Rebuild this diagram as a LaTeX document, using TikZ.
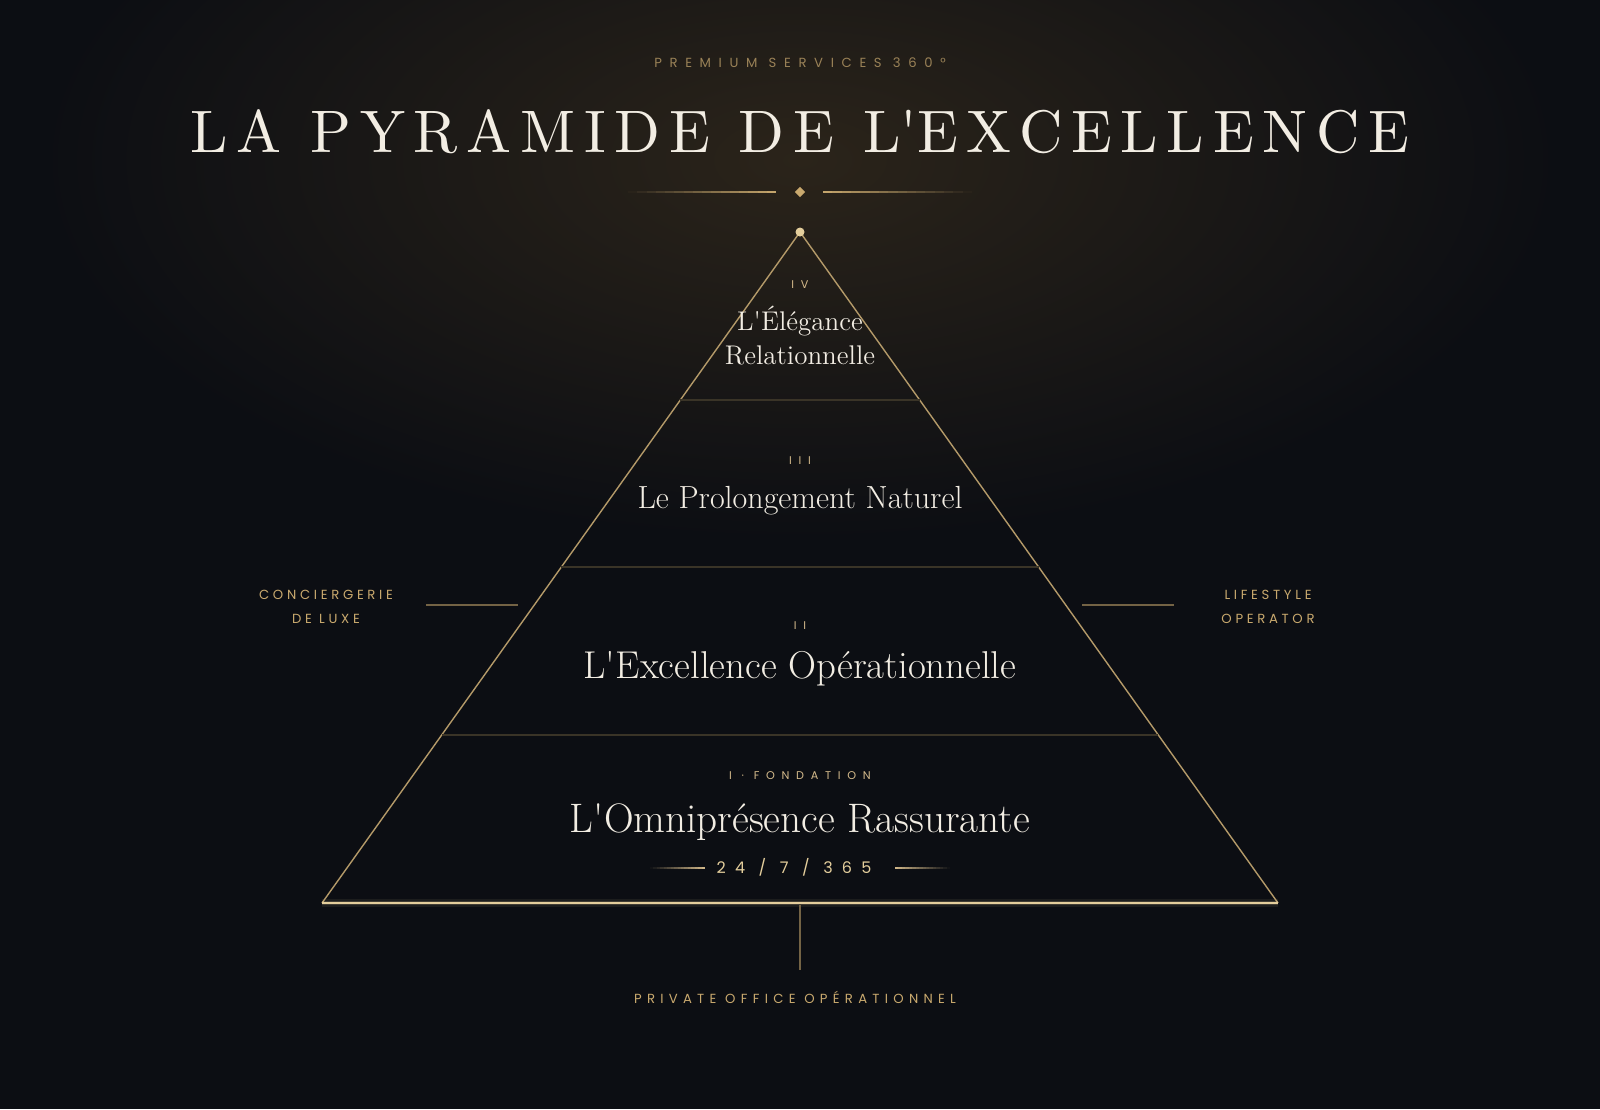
\documentclass[tikz,border=0pt]{standalone}
\usepackage{fontspec}
\newfontfamily\labelfont{Poppins}
\newfontfamily\titlefont{lmroman10-regular}[Extension=.otf,LetterSpace=14.6]
\usetikzlibrary{positioning}
\definecolor{bgdark}{HTML}{0C0E13}
\definecolor{glow}{HTML}{2B241A}
\definecolor{gold}{HTML}{C9A96E}
\definecolor{goldedge}{HTML}{B49A69}
\definecolor{goldfaint}{HTML}{3A3427}
\definecolor{goldlight}{HTML}{E4CE9C}
\definecolor{cream}{HTML}{F2EDE3}
\newcommand{\apos}{\textquotesingle}
% fading rule: faint at #1, full at #2
\newcommand{\goldrule}[4]{%
    \foreach \i [evaluate=\i as \op using (\i+0.5)/16,
                 evaluate=\i as \xa using #1+(#2-#1)*\i/16,
                 evaluate=\i as \xb using #1+(#2-#1)*(\i+1)/16] in {0,...,15}
        \draw[#4,opacity=\op,line width=0.7pt] (\xa,#3) -- (\xb,#3);}
\tikzset{x=0.5pt,y=-0.5pt,
    every node/.style={inner sep=0pt,anchor=base},
    smallcaps/.style={text=gold,
        font={\labelfont\addfontfeature{LetterSpace=40}\fontsize{6.6}{12}\selectfont}},
    sidecaps/.style={text=gold,align=center,
        font={\labelfont\addfontfeature{LetterSpace=28}\fontsize{6.6}{12}\selectfont}},
    numeral/.style={text=gold!80,
        font={\labelfont\addfontfeature{LetterSpace=60}\fontsize{5.6}{6}\selectfont}},
    tiertext/.style={text=cream,align=center},
    divider/.style={draw=goldfaint,line width=0.6pt},
    sideline/.style={draw=gold!55!bgdark,line width=0.6pt}}
\begin{document}
\begin{tikzpicture}
    % background and glow
    \fill[bgdark] (0,0) rectangle (1600,1109);
    \useasboundingbox (0,0) rectangle (1600,1109);
    \begin{scope}
        \clip (0,0) rectangle (1600,1109);
        \shade[inner color=glow,outer color=bgdark] (800,160) ellipse [x radius=760,y radius=380];
    \end{scope}

    % heading
    \node[smallcaps,text=gold!75!bgdark,font={\labelfont\addfontfeature{LetterSpace=58}\fontsize{6.6}{8}\selectfont}] (kicker) at (800,67) {PREMIUM SERVICES 360°};
    \node[text=cream,font={\titlefont\fontsize{30}{34}\selectfont}] (title) at (800,152) {LA PYRAMIDE DE L\apos EXCELLENCE};
    \node[fill=gold,minimum size=3.6pt,rotate=45,anchor=center] (diamond) at (800,192) {};
    \goldrule{628}{776}{192}{gold}
    \goldrule{972}{823}{192}{gold}

    % pyramid
    \coordinate (apex) at (800,232);
    \coordinate (baseL) at (322,903);
    \coordinate (baseR) at (1278,903);
    \draw[goldedge,line width=0.7pt] (baseL) -- (apex) -- (baseR);
    \draw[goldlight,line width=4pt,opacity=0.08] (baseL) -- (baseR);
    \draw[goldlight,line width=2.4pt,opacity=0.18] (baseL) -- (baseR);
    \draw[goldlight,line width=1.4pt] (baseL) -- (baseR);
    \fill[goldlight] (apex) circle (4.5);

    % tier dividers
    \foreach \yy/\nm in {400/a,567/b,735/c}{
        \coordinate (\nm L) at ({800-(\yy-232)/671*478},\yy);
        \coordinate (\nm R) at ({800+(\yy-232)/671*478},\yy);
        \draw[divider] (\nm L) -- (\nm R);
    }

    % tier IV
    \node[numeral] (numfour) at (800,288) {IV};
    \node[tiertext,font=\fontsize{13.5}{17}\selectfont] (tierfour) at (800,364) {L\apos Élégance\\Relationnelle};
    % tier III
    \node[numeral] (numthree) at (800,464) {III};
    \node[tiertext,font=\fontsize{16}{18}\selectfont] (tierthree) at (800,508) {Le Prolongement Naturel};
    % tier II
    \node[numeral] (numtwo) at (800,629) {II};
    \node[tiertext,font=\fontsize{19.4}{22}\selectfont] (tiertwo) at (800,678) {L\apos Excellence Opérationnelle};
    % tier I
    \node[numeral] (numone) at (800,779) {I · FONDATION};
    \node[tiertext,font=\fontsize{20.6}{23}\selectfont] (tierone) at (800,832) {L\apos Omniprésence Rassurante};
    \node[smallcaps,text=goldlight,font={\labelfont\addfontfeature{LetterSpace=58}\fontsize{8}{10}\selectfont}] (hours) at (794,873) {24 / 7 / 365};
    \goldrule{650}{705}{868}{gold!80}
    \goldrule{950}{895}{868}{gold!80}

    % side labels
    \node[sidecaps] (concierge) at (326,623) {CONCIERGERIE\\DE LUXE};
    \node[sidecaps] (lifestyle) at (1268,623) {LIFESTYLE\\OPERATOR};
    \coordinate (leftA) at (426,605);
    \coordinate (leftB) at (518,605);
    \coordinate (rightA) at (1082,605);
    \coordinate (rightB) at (1174,605);
    \draw[sideline] (leftA) -- (leftB);
    \draw[sideline] (rightA) -- (rightB);

    % base stem and footer
    \coordinate (stemtop) at (800,905);
    \coordinate (stembot) at (800,970);
    \draw[sideline] (stemtop) -- (stembot);
    \node[smallcaps] (footer) at (795,1003) {PRIVATE OFFICE OPÉRATIONNEL};
\end{tikzpicture}
\end{document}
